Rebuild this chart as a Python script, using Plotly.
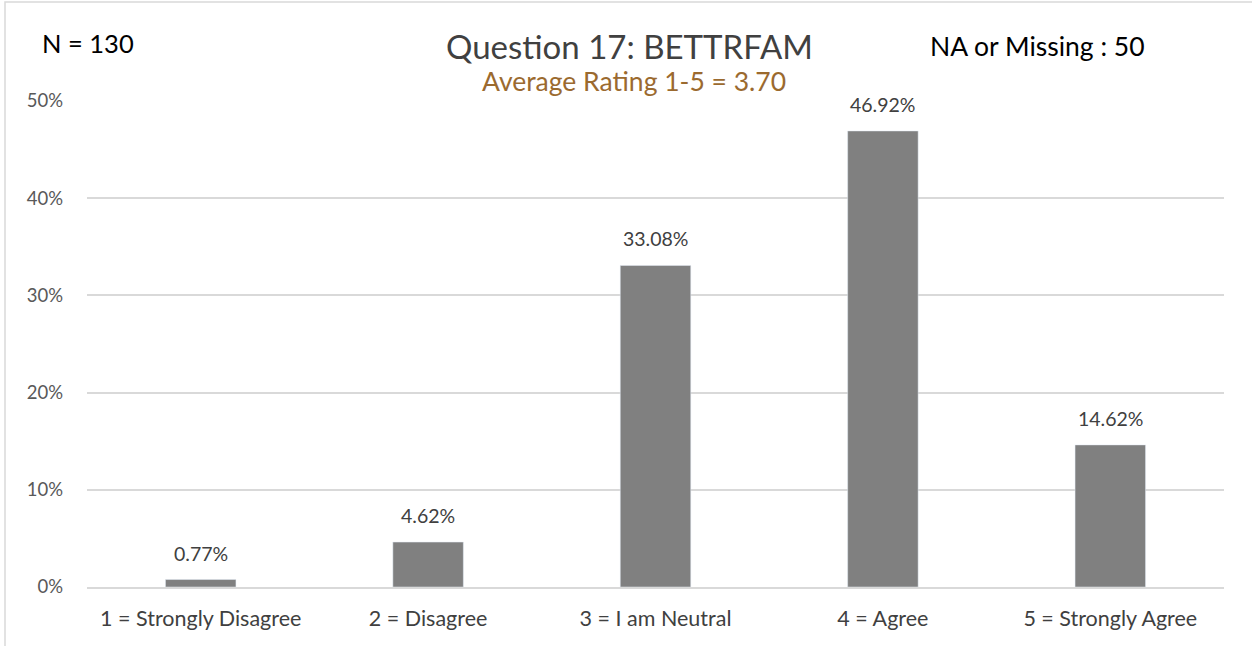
import plotly.graph_objects as go

categories = ["1 = Strongly Disagree", "2 = Disagree", "3 = I am Neutral", "4 = Agree", "5 = Strongly Agree"]
values = [0.0077, 0.0462, 0.3308, 0.4692, 0.1462]
labels = ["0.77%", "4.62%", "33.08%", "46.92%", "14.62%"]

W, H = 1252, 646
L, R, T, B = 87, 28, 101, 59
pw, ph = W - L - R, H - T - B

def px_x(x):
    return (x - L) / pw

def px_y(y):
    return 1 - (y - T) / ph

font = "Lato, 'Noto Sans', sans-serif"

fig = go.Figure(go.Bar(
    x=categories, y=values,
    marker=dict(color="#808080"),
))

bar_labels = [dict(x=c, y=v, text=t, xref="x", yref="y", showarrow=False,
                   yanchor="bottom", yshift=13,
                   font=dict(size=19.5, color="#404040"))
              for c, v, t in zip(categories, values, labels)]

fig.update_layout(
    width=W, height=H, margin=dict(l=L, r=R, t=T, b=B),
    paper_bgcolor="white", plot_bgcolor="white",
    bargap=0.69, showlegend=False,
    font=dict(family=font, color="#595959"),
    xaxis=dict(showgrid=False, showline=True, linecolor="#d9d9d9", linewidth=1.5,
               tickfont=dict(size=21.5, color="#404040"), ticks="", ticklabelstandoff=11),
    yaxis=dict(range=[0, 0.5], dtick=0.1, tickformat=".0%", showgrid=True,
               gridcolor="#d9d9d9", gridwidth=1.5, zeroline=False,
               tickfont=dict(size=18.5, color="#595959"), ticklabelstandoff=23),
    shapes=[dict(type="rect", xref="paper", yref="paper",
                 x0=px_x(5), x1=px_x(1262), y0=px_y(2), y1=px_y(660),
                 line=dict(color="#d9d9d9", width=1.5), layer="below")],
    annotations=bar_labels + [
        dict(text="Question 17: BETTRFAM", xref="paper", yref="paper", x=px_x(629), y=px_y(46),
             xanchor="center", yanchor="middle",
             showarrow=False, font=dict(size=33, color="#404040")),
        dict(text="Average Rating 1-5 = 3.70", xref="paper", yref="paper", x=px_x(634), y=px_y(81),
             xanchor="center", yanchor="middle",
             showarrow=False, font=dict(size=26.5, color="#9B6A2F")),
        dict(text="N = 130", xref="paper", yref="paper", x=px_x(40), y=px_y(43),
             xanchor="left", yanchor="middle",
             showarrow=False, font=dict(size=25.5, color="#000000")),
        dict(text="NA or Missing : 50", xref="paper", yref="paper", x=px_x(928), y=px_y(46),
             xanchor="left", yanchor="middle",
             showarrow=False, font=dict(size=26.5, color="#000000")),
    ],
)

fig.write_html("out.html", config={"displayModeBar": False},
               post_script="document.body.style.margin='0';")
